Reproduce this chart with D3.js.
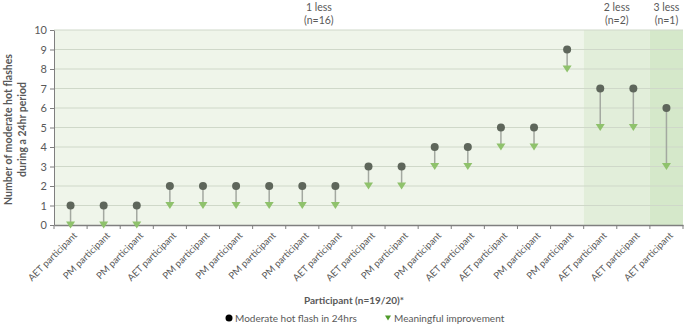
<!DOCTYPE html>
<html>
<head>
<meta charset="utf-8">
<script src="https://cdn.jsdelivr.net/npm/d3@7"></script>
<style>
  body { margin: 0; background: #fff; }
  text { font-family: Lato, "Open Sans", sans-serif; fill: #595959; }
</style>
</head>
<body>
<svg id="chart" width="685" height="325"></svg>
<script>
// Data
const participants = ["AET participant", "PM participant", "PM participant", "AET participant",
    "PM participant", "PM participant", "PM participant", "PM participant", "AET participant",
    "AET participant", "PM participant", "PM participant", "AET participant", "AET participant",
    "PM participant", "PM participant", "AET participant", "AET participant", "AET participant"];
const baseline = [1, 1, 1, 2, 2, 2, 2, 2, 2, 3, 3, 4, 4, 5, 5, 9, 7, 7, 6];
const improved = [0, 0, 0, 1, 1, 1, 1, 1, 1, 2, 2, 3, 3, 4, 4, 8, 5, 5, 3];
const groups = [
    { label: "1 less", n: "(n=16)", from: 0, to: 15, fill: "#eff5ea" },
    { label: "2 less", n: "(n=2)", from: 16, to: 17, fill: "#e2eeda" },
    { label: "3 less", n: "(n=1)", from: 18, to: 18, fill: "#d5e8ca" }
];
const yTicks = d3.range(0, 11);

const margin = { top: 30, right: 2, bottom: 100, left: 54 };
const width = 685 - margin.left - margin.right;
const height = 325 - margin.top - margin.bottom;

const svg = d3.select("#chart")
    .append("g")
    .attr("transform", `translate(${margin.left},${margin.top})`);

const idx = participants.map((d, i) => i);
const xScale = d3.scaleBand().domain(idx).range([0, width]);
const yScale = d3.scaleLinear().domain([0, 10]).range([height, 0]);

// Background bands + group labels
groups.forEach(g => {
    const x0 = xScale(g.from);
    const x1 = xScale(g.to) + xScale.bandwidth();
    svg.append("rect")
        .attr("x", x0).attr("y", 0)
        .attr("width", x1 - x0).attr("height", height)
        .attr("fill", g.fill);
    const cx = (x0 + x1) / 2;
    svg.append("text").attr("x", cx).attr("y", -19)
        .attr("text-anchor", "middle").style("font-size", "10.5px").text(g.label);
    svg.append("text").attr("x", cx).attr("y", -6)
        .attr("text-anchor", "middle").style("font-size", "10.5px").text(g.n);
});

// Gridlines
svg.selectAll(".grid")
    .data(yTicks.slice(1))
    .enter()
    .append("line")
    .attr("x1", 0).attr("x2", width)
    .attr("y1", d => yScale(d)).attr("y2", d => yScale(d))
    .attr("stroke", "#cfd8c9").attr("stroke-width", 1);

// Y axis
const yAxis = svg.append("g")
    .call(d3.axisLeft(yScale).tickValues(yTicks).tickSize(4).tickSizeOuter(0));
yAxis.select(".domain").attr("stroke", "#7f7f7f");
yAxis.selectAll(".tick line").attr("stroke", "#7f7f7f");
yAxis.selectAll("text").style("font-size", "11px").attr("fill", "#595959").attr("x", -7);

// X axis
const xAxis = svg.append("g")
    .attr("transform", `translate(0, ${height})`)
    .call(d3.axisBottom(xScale).tickSize(0).tickFormat(i => participants[i]));
xAxis.select(".domain").attr("stroke", "#7f7f7f").attr("stroke-width", 1.5);
xAxis.selectAll("text")
    .style("font-size", "9.5px")
    .attr("fill", "#595959")
    .attr("text-anchor", "end")
    .attr("dy", 0)
    .attr("transform", "translate(5,9) rotate(-45)");

// Ticks at band boundaries
svg.selectAll(".xtick")
    .data(d3.range(0, participants.length + 1))
    .enter()
    .append("line")
    .attr("x1", d => d * xScale.step()).attr("x2", d => d * xScale.step())
    .attr("y1", height).attr("y2", height + 4)
    .attr("stroke", "#7f7f7f");

// Connectors
const cx = i => xScale(i) + xScale.bandwidth() / 2;
svg.selectAll(".conn")
    .data(idx)
    .enter()
    .append("line")
    .attr("x1", cx).attr("x2", cx)
    .attr("y1", i => yScale(baseline[i])).attr("y2", i => yScale(improved[i]) - 3)
    .attr("stroke", "#a3a8a0").attr("stroke-width", 1.5);

// Triangles (meaningful improvement)
svg.selectAll(".tri")
    .data(idx)
    .enter()
    .append("path")
    .attr("d", i => {
        const x = cx(i), y = yScale(improved[i]);
        return `M${x - 4.5},${y - 3.5}L${x + 4.5},${y - 3.5}L${x},${y + 3.5}Z`;
    })
    .attr("fill", "#8fc26c");

// Dots (moderate hot flashes)
svg.selectAll(".dot")
    .data(idx)
    .enter()
    .append("circle")
    .attr("cx", cx)
    .attr("cy", i => yScale(baseline[i]))
    .attr("r", 4)
    .attr("fill", "#5e665b");

// Axis titles
svg.append("text")
    .attr("x", 300)
    .attr("y", height + 79)
    .attr("text-anchor", "middle")
    .style("font-size", "10px").style("font-weight", "bold").attr("fill", "#404040")
    .text("Participant (n=19/20)*");

const yTitle = svg.append("text")
    .attr("transform", `translate(${-42},${height / 2 + 2}) rotate(-90)`)
    .attr("text-anchor", "middle")
    .style("font-size", "10.5px").style("font-weight", "bold").attr("fill", "#404040");
yTitle.append("tspan").attr("x", 0).attr("dy", 0).text("Number of moderate hot flashes");
yTitle.append("tspan").attr("x", 0).attr("dy", 14).text("during a 24hr period");

// Legend
const legend = svg.append("g").attr("transform", `translate(0, ${height + 93})`);
legend.append("circle").attr("cx", 175).attr("cy", 0).attr("r", 3.5).attr("fill", "#000");
legend.append("text").attr("x", 181).attr("y", 3.5)
    .style("font-size", "10px").text("Moderate hot flash in 24hrs");
legend.append("path").attr("d", "M331,-2.5L337,-2.5L334,2.5Z").attr("fill", "#4e9a2a");
legend.append("text").attr("x", 340).attr("y", 3.5)
    .style("font-size", "10px").text("Meaningful improvement");
</script>
</body>
</html>
